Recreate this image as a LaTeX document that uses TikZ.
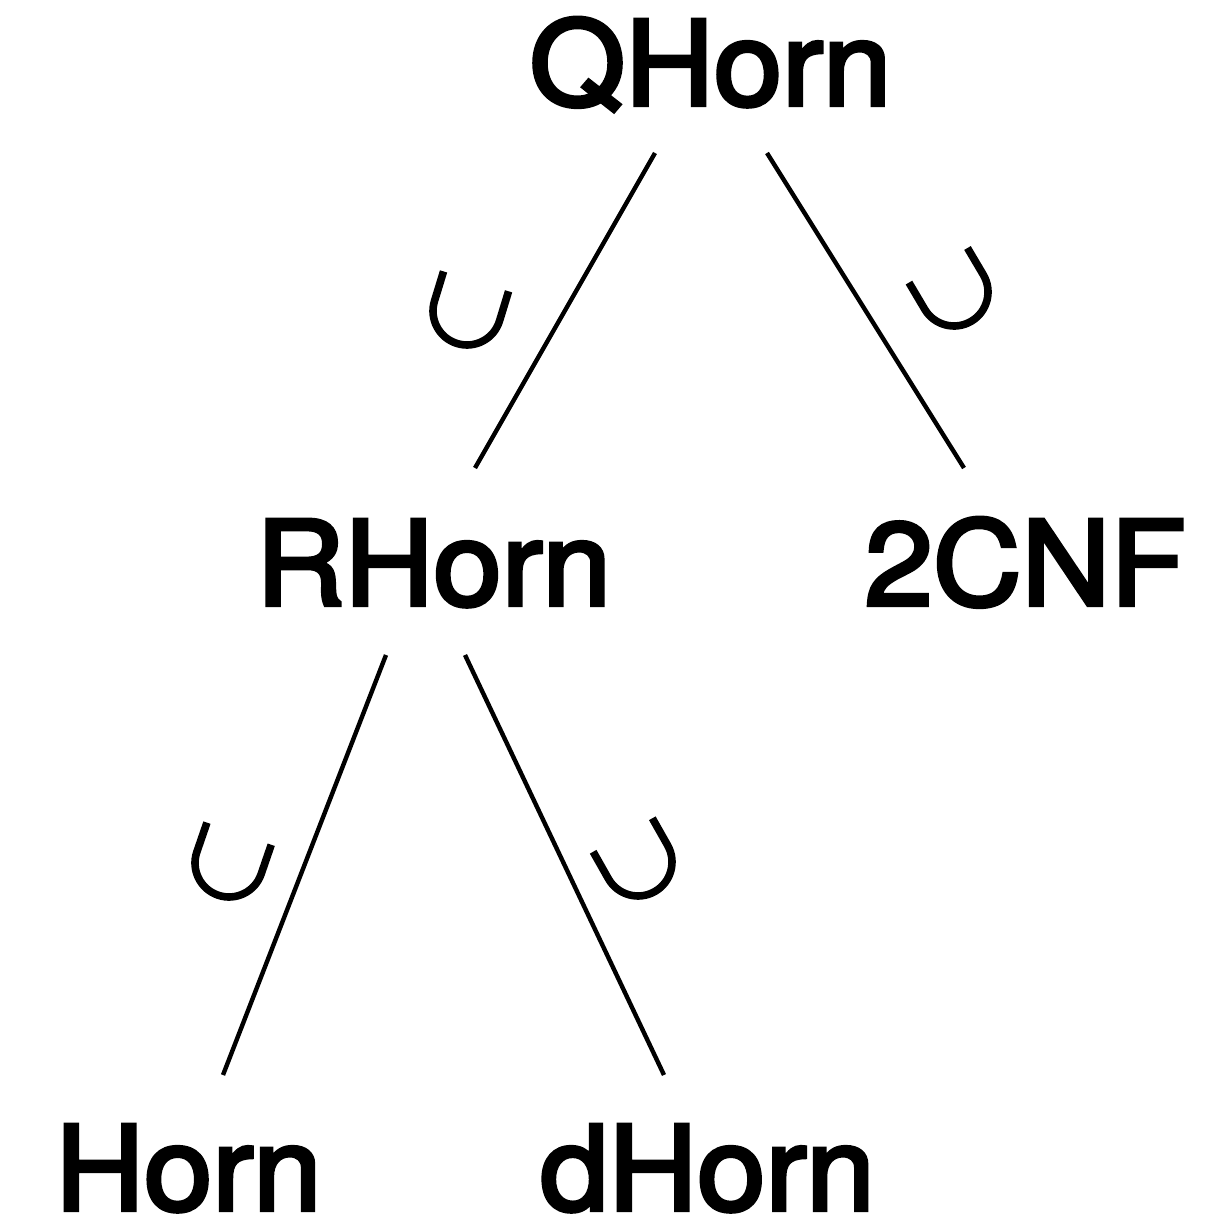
\documentclass[tikz,border=0pt]{standalone}
\usepackage{fontspec}
\setmainfont[FakeStretch=1.05, FakeBold=3.5]{TeX Gyre Heros}
\usetikzlibrary{calc}

\begin{document}
\begin{tikzpicture}[
    x=0.5pt, y=-0.5pt,
    every node/.style={font=\fontsize{58.5}{70}\selectfont, inner sep=0pt, anchor=base},
    edge/.style={line width=2.2pt, black},
    incl/.pic={\draw[line width=3.8pt] (-17pt,15.5pt) -- (-17pt,0pt)
               arc[start angle=180, end angle=360, radius=17pt] -- (17pt,15.5pt);}
]
\useasboundingbox (0,0) rectangle (1228,1219);

\node (qhorn) at (710.5, 105)  {QHorn};
\node (rhorn) at (433.5, 605)  {RHorn};
\node (cnf)   at (1025, 605)   {2CNF};
\node (horn)  at (188.5, 1210) {Horn};
\node (dhorn) at (707.5, 1210) {dHorn};

% edges leave 48 below the baseline and stop 137 above it
\draw[edge] ($(qhorn.base)+(-55.5,48)$) -- ($(rhorn.base)+(41.5,-137)$);
\draw[edge] ($(qhorn.base)+(56.5,48)$)  -- ($(cnf.base)+(-61,-137)$);
\draw[edge] ($(rhorn.base)+(-47.5,50)$) -- ($(horn.base)+(34.5,-135)$);
\draw[edge] ($(rhorn.base)+(31.5,50)$)  -- ($(dhorn.base)+(-43.5,-135)$);

% subset marks beside the edges
\pic[rotate=-17]   at (467, 311) {incl};
\pic[rotate=30.6]  at (954, 292) {incl};
\pic[rotate=-19]   at (229, 863) {incl};
\pic[rotate=29.5]  at (638, 862) {incl};
\end{tikzpicture}
\end{document}
